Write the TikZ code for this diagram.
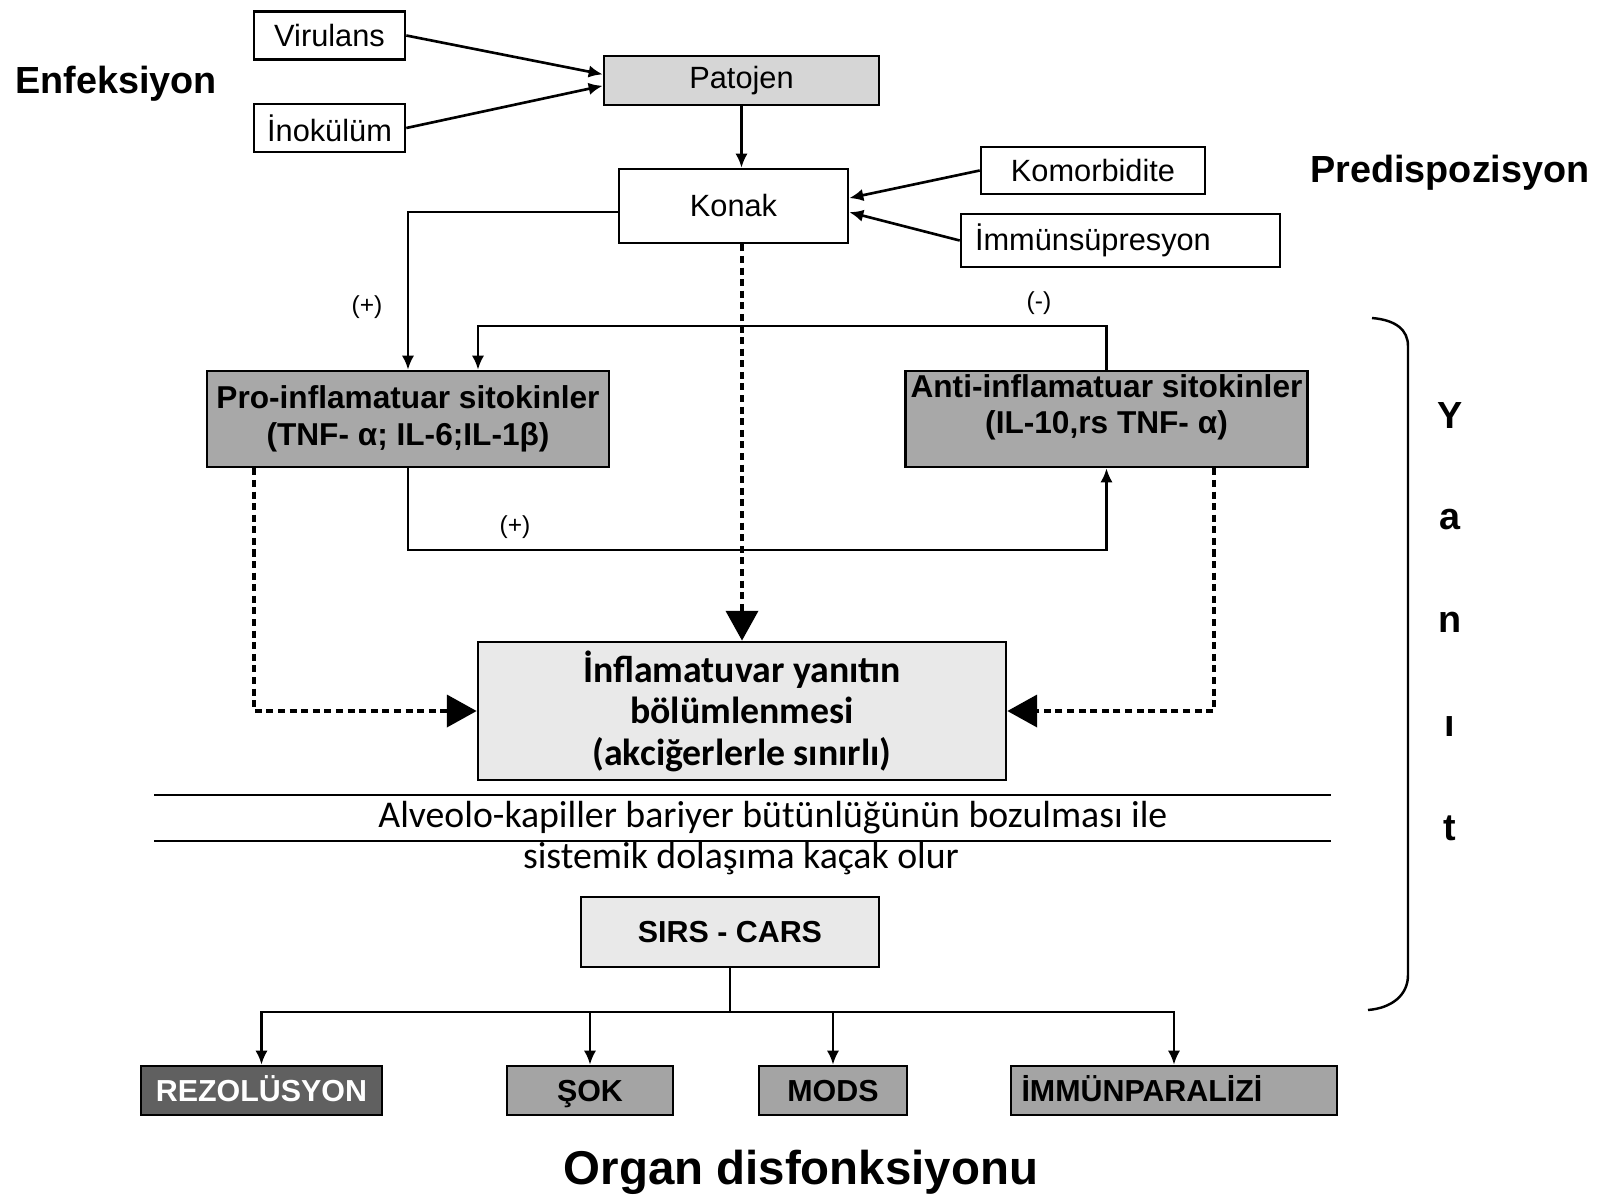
\documentclass[tikz,border=0pt]{standalone}
\usepackage{fontspec}
\setmainfont{Liberation Sans}
\newfontfamily\calfont{Carlito}
\usetikzlibrary{arrows.meta}
\definecolor{patgray}{HTML}{D6D6D6}
\definecolor{cytogray}{HTML}{A8A8A8}
\definecolor{palegray}{HTML}{E9E9E9}
\definecolor{darkgray}{HTML}{606060}
\definecolor{outgray}{HTML}{A4A4A4}
\begin{document}
\begin{tikzpicture}[x=0.02cm, y=-0.02cm, every node/.style={inner sep=0pt},
  box/.style={draw,line width=1.5pt,minimum height=0.96cm,font=\fontsize{17.5}{20}\selectfont},
  cyto/.style={draw,line width=1.5pt,fill=cytogray,minimum width=8.04cm,minimum height=1.92cm,align=center,font=\fontsize{18}{21}\selectfont\bfseries},
  outbox/.style={draw,line width=1.5pt,fill=outgray,minimum height=0.98cm,text height=12.4pt,text depth=0pt,font=\fontsize{17.3}{20}\selectfont\bfseries},
  sign/.style={font=\fontsize{14}{16}\selectfont},
  head/.style={font=\fontsize{21.5}{24}\selectfont\bfseries},
  link/.style={line width=1.5pt,-{Latex[length=8pt,width=7pt]}},
  leak/.style={line width=2.8pt,dash pattern=on 4pt off 2.6pt,-{Triangle[length=17pt,width=18pt]}}]
  \useasboundingbox (0,0) rectangle (1606,1194);
  % infection side
  \node[head] (enf) at (116,84) {Enfeksiyon};
  \node[box,minimum width=3.02cm] (vir) at (329.5,35.5) {Virulans};
  \node[box,minimum width=3.02cm] (ino) at (329.5,128) {İnokülüm};
  \node[box,fill=patgray,minimum width=5.5cm,minimum height=0.98cm] (pat) at (741.5,80.5) {Patojen};
  \draw[link] (vir.east) -- ([yshift=3.5pt]pat.west);
  \draw[link] (ino.east) -- ([yshift=-3pt]pat.west);
  % host and predisposition
  \node[box,minimum width=4.58cm,minimum height=1.48cm] (kon) at (733.5,206) {Konak};
  \node[box,minimum width=4.48cm,minimum height=0.94cm] (kom) at (1093,170.5) {Komorbidite};
  \node[box,minimum width=6.38cm,minimum height=1.06cm,text width=5.82cm,align=left] (imm) at (1120.5,240.5) {İmmünsüpresyon};
  \node[head] (pre) at (1450,173) {Predispozisyon};
  \draw[link] (pat.south) -- (pat.south |- kon.north);
  \draw[link] (kom.west) -- ([yshift=4.5pt]kon.east);
  \draw[link] (imm.west) -- ([yshift=-3.5pt]kon.east);
  % cytokines
  \node[cyto] (pro) at (408,419) {Pro-inflamatuar sitokinler\\(TNF- α; IL-6;IL-1β)};
  \node[cyto,text depth=17pt] (anti) at (1106.5,419) {Anti-inflamatuar sitokinler\\(IL-10,rs TNF- α)};
  \draw[link] ([yshift=-3.4pt]kon.west) -| (pro.north);
  \node[sign] (plus1) at (367,307) {(+)};
  \coordinate (fb) at (478,326);
  \draw[link] (anti.north) |- (fb) -- (fb |- pro.north);
  \node[sign] (minus) at (1039,303) {(-)};
  \coordinate (pb) at (405,550);
  \draw[link] (pro.south) |- (pb -| anti.south) -- (anti.south);
  \node[sign] (plus2) at (515,527) {(+)};
  % compartment
  \node[draw,line width=1.5pt,fill=palegray,minimum width=10.56cm,minimum height=2.76cm,align=center,
    font=\calfont\fontsize{21.5}{23.6}\selectfont\bfseries] (inf) at (742,711)
    {İnflamatuvar yanıtın\\bölümlenmesi\\(akciğerlerle sınırlı)};
  \coordinate (dl) at (254,711);
  \coordinate (dr) at (1214,711);
  \draw[leak] (kon.south -| inf.north) -- (inf.north);
  \draw[leak] (dl |- pro.south) |- (inf.west);
  \draw[leak] (dr |- anti.south) |- (inf.east);
  % barrier
  \draw[line width=1.4pt] (154,795) -- (1331,795);
  \draw[line width=1.4pt] (154,841) -- (1331,841);
  \node[font=\calfont\fontsize{21.5}{24}\selectfont] (alv1) at (773,818) {Alveolo-kapiller bariyer bütünlüğünün bozulması ile};
  \node[font=\calfont\fontsize{21.5}{24}\selectfont] (alv2) at (741,859) {sistemik dolaşıma kaçak olur};
  % outcomes
  \node[outbox,fill=palegray,minimum width=5.96cm,minimum height=1.4cm] (sirs) at (730,932) {SIRS - CARS};
  \node[outbox,fill=darkgray,text=white,minimum width=4.82cm] (rez) at (261.5,1090.5) {REZOLÜSYON};
  \node[outbox,minimum width=3.32cm] (sok) at (590,1090.5) {ŞOK};
  \node[outbox,minimum width=2.96cm] (mods) at (833,1090.5) {MODS};
  \node[outbox,minimum width=6.52cm,text width=6.1cm,align=left] (par) at (1174,1090.5) {İMMÜNPARALİZİ};
  \coordinate (fork) at (730,1012);
  \foreach \t in {rez,sok,mods,par}
    \draw[link] (sirs.south) |- (fork -| \t.north) -- (\t.north);
  \node[font=\fontsize{27}{30}\selectfont\bfseries] (org) at (801,1172) {Organ disfonksiyonu};
  % response bracket
  \draw[line width=1.4pt] (1372,318) .. controls (1396,320) and (1408,330) .. (1408,346) -- (1408,975)
    .. controls (1408,995) and (1392,1008) .. (1368,1010);
  \foreach \c/\yy in {Y/415,a/520,n/622,ı/727,t/828}
    \node[head] at (1450,\yy) {\c};
\end{tikzpicture}
\end{document}
